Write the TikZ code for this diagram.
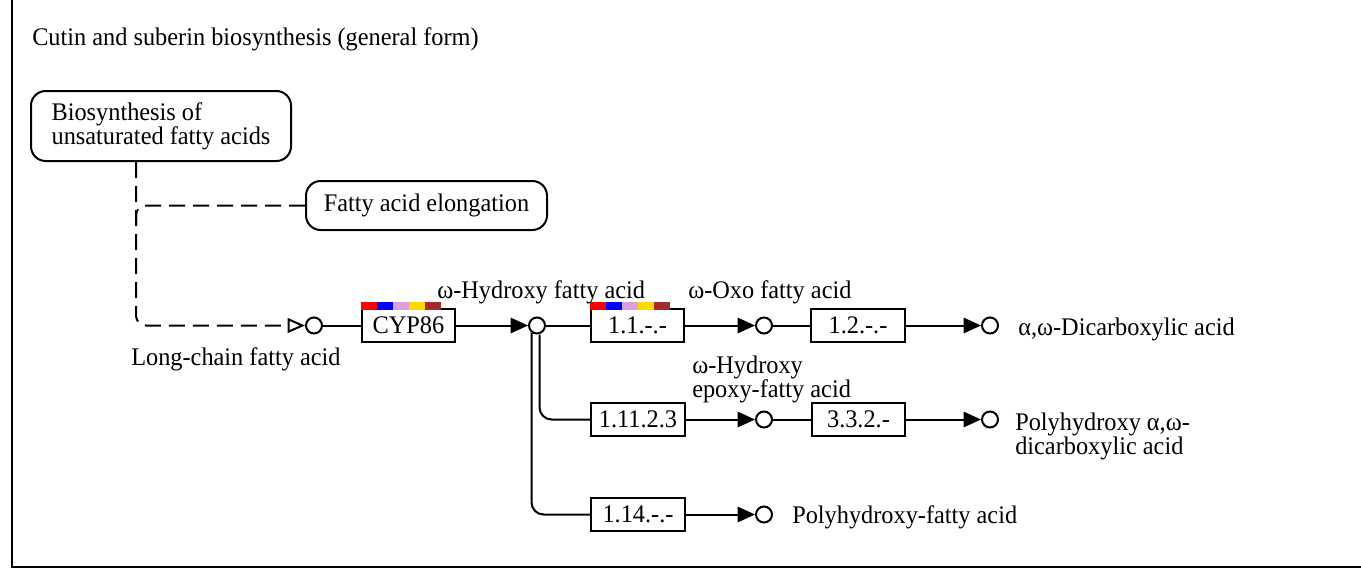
\documentclass[tikz,border=0pt]{standalone}
\usepackage{fontspec}
\setmainfont{Liberation Serif}[FakeStretch=0.96]
\usetikzlibrary{arrows.meta}
\definecolor{kred}{HTML}{FF0000}
\definecolor{kblue}{HTML}{0000FF}
\definecolor{kplum}{HTML}{DDA0DD}
\definecolor{kgold}{HTML}{FFD700}
\definecolor{kbrown}{HTML}{A52A2A}
\begin{document}
\begin{tikzpicture}[x=0.75pt,y=-0.75pt,
  lbl/.style={font=\fontsize{19pt}{18pt}\selectfont},
  conn/.style={line width=1.5pt},
  dashconn/.style={line width=1.5pt, dash pattern=on 12pt off 6pt},
  enzyme/.style={draw, line width=1.5pt, minimum width=70pt, minimum height=25pt,
                 inner sep=0pt, fill=white, lbl},
  cpd/.style={circle, draw, line width=1.5pt, minimum size=12pt, inner sep=0pt, fill=white},
  mapbox/.style={draw, line width=1.5pt, rounded corners=11pt, align=left, inner sep=0pt, lbl},
  tag/.style={anchor=base west, inner sep=0pt, lbl},
  tagml/.style={anchor=north west, inner sep=0pt, align=left, lbl},
  arr/.style={-{Triangle[length=13pt,width=11.5pt]}},
  openarr/.style={-{Triangle[open,length=13pt,width=11pt]}}
]
\useasboundingbox (0,0) rectangle (1361,568);

% page frame (left and bottom edges)
\draw[line width=1.5pt] (11.5,0) -- (11.5,566.5) -- (1361,566.5);

% title
\node[tag] (ttl) at (32,45) {Cutin and suberin biosynthesis (general form)};

% linked pathway maps
\node[mapbox, minimum width=195pt, minimum height=52.5pt] (bio) at (161,126)
  {Biosynthesis of\\unsaturated fatty acids};
\node[mapbox, minimum width=180.75pt, minimum height=36.75pt] (elong) at (426.5,205.5)
  {Fatty acid elongation};

% compounds
\node[cpd] (c0) at (314,325.5) {};
\node[cpd] (c1) at (537,325.5) {};
\node[cpd] (c2) at (764,325.5) {};
\node[cpd] (c3) at (990,325.5) {};
\node[cpd] (c4) at (764,419.5) {};
\node[cpd] (c5) at (990,419.5) {};
\node[cpd] (c6) at (764,514.5) {};

% enzymes
\node[enzyme] (cyp)   at (408.5,325.5) {CYP86};
\node[enzyme] (e11)   at (637.5,325.5) {1.1.-.-};
\node[enzyme] (e12)   at (858,325.5)   {1.2.-.-};
\node[enzyme] (e1123) at (638,419.5)   {1.11.2.3};
\node[enzyme] (e332)  at (858.5,419.5) {3.3.2.-};
\node[enzyme] (e114)  at (638,514.5)   {1.14.-.-};

% organism colour bars
\foreach \c [count=\i from 0] in {kred,kblue,kplum,kgold,kbrown}{
  \fill[\c] ([xshift=\i*12pt, yshift=4.5pt]cyp.north west) rectangle ++(16,8);
  \fill[\c] ([xshift=\i*12pt, yshift=4.5pt]e11.north west) rectangle ++(16,8);
}

% dashed links from the other maps
\coordinate (bend) at (136,325.5);
\coordinate (join) at (136,232);
\draw[dashconn, openarr, rounded corners=7.5pt] (bio.south -| bend) -- (bend) -- (c0);
\draw[dashconn, rounded corners=7.5pt] (elong.west) -| (join);

% reactions
\draw[conn] (c0) -- (cyp);
\draw[conn, arr] (cyp) -- (c1);
\draw[conn] (c1) -- (e11);
\draw[conn, arr] (e11) -- (c2);
\draw[conn] (c2) -- (e12);
\draw[conn, arr] (e12) -- (c3);
\draw[conn, rounded corners=9pt] ([xshift=1.9pt]c1.south) |- (e1123);
\draw[conn, rounded corners=9pt] ([xshift=-4.1pt,yshift=1.4pt]c1.south) |- (e114);
\draw[conn, arr] (e1123) -- (c4);
\draw[conn] (c4) -- (e332);
\draw[conn, arr] (e332) -- (c5);
\draw[conn, arr] (e114) -- (c6);

% compound names
\node[tag] (lcfa) at (131,365) {Long-chain fatty acid};
\node[tag] (ohfa) at (437,298) {ω-Hydroxy fatty acid};
\node[tag] (oxo)  at (688,298) {ω-Oxo fatty acid};
\node[tag] (dca)  at (1018,335) {α,ω-Dicarboxylic acid};
\node[tagml] (epx) at (692,356) {ω-Hydroxy\\epoxy-fatty acid};
\node[tagml] (phd) at (1015,413) {Polyhydroxy α,ω-\\dicarboxylic acid};
\node[tag] (phf)  at (792,523) {Polyhydroxy-fatty acid};
\end{tikzpicture}
\end{document}
